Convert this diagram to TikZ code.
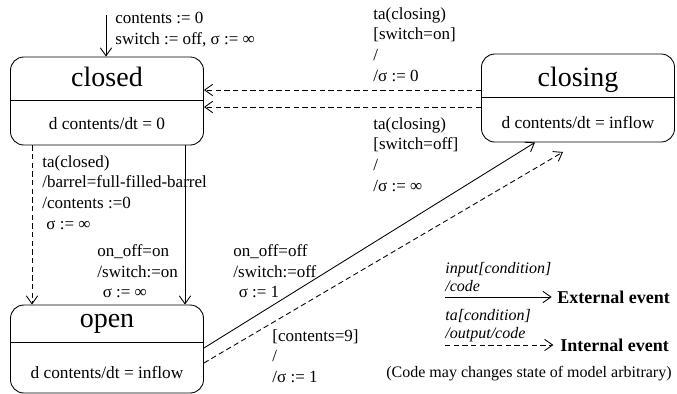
\documentclass[tikz,border=0pt]{standalone}
\usepackage{fontspec}
\setmainfont{Liberation Serif}
\usetikzlibrary{arrows.meta}

\newcommand{\lblfont}{\fontsize{12.75}{15.5}\selectfont}
\newcommand{\bodyfont}{\fontsize{13}{15.5}\selectfont}
\newcommand{\namefont}{\fontsize{21}{24}\selectfont}
\newcommand{\keyfont}{\fontsize{12}{13.5}\selectfont}

\begin{document}
\begin{tikzpicture}[x=0.75pt, y=-0.75pt, line width=0.65pt,
    >={Straight Barb[length=6pt,width=8.5pt]},
    state/.style={draw, rounded corners=10pt, minimum width=144.75pt, minimum height=66pt, inner sep=0pt},
    statename/.style={font=\namefont, anchor=base, inner sep=0pt},
    statebody/.style={font=\bodyfont, anchor=base, inner sep=0pt},
    lbl/.style={font=\lblfont, align=left, anchor=north west, inner sep=0pt},
    internal/.style={->, dash pattern=on 4pt off 2.5pt}]

    % Fix the picture size
    \useasboundingbox (0,0) rectangle (677,393);

    % The three states
    \node[state] (closed) at (107,101) {};
    \node[state] (closing) at (578,98) {};
    \node[state] (open) at (107,349) {};

    % Divider lines inside the states
    \draw (closed.west |- 0,100) -- (closed.east |- 0,100);
    \draw (closing.west |- 0,97) -- (closing.east |- 0,97);
    \draw (open.west |- 0,342) -- (open.east |- 0,342);

    % Names and rates
    \node[statename] (closedname) at (107,86) {closed};
    \node[statebody] (closedrate) at (107,129) {d contents/dt = 0};
    \node[statename] (closingname) at (578,86) {closing};
    \node[statebody] (closingrate) at (578,128) {d contents/dt = inflow};
    \node[statename] (openname) at (107,327) {open};
    \node[statebody] (openrate) at (107,378) {d contents/dt = inflow};

    % Initial transition
    \coordinate (init) at (106,15);
    \draw[->] (init) -- (init |- closed.north);
    \node[lbl] (initlbl) at (115,12) {contents := 0\\switch := off, σ := ∞};

    % closing -> closed (internal events)
    \draw[internal] (closing.west |- 0,90) -- (closed.east |- 0,90);
    \draw[internal] (closing.west |- 0,107) -- (closed.east |- 0,107);
    \node[lbl] (switchon) at (373,7) {ta(closing)\\{[}switch=on{]}\\/\\/σ := 0};
    \node[lbl] (switchoff) at (373,117) {ta(closing)\\{[}switch=off{]}\\/\\/σ := ∞};

    % closed -> open
    \draw[internal] (closed.south -| 32,0) -- (open.north -| 32,0);
    \draw[->] (closed.south -| 185,0) -- (open.north -| 185,0);
    \node[lbl] (taclosed) at (42,155) {ta(closed)\\/barrel=full-filled-barrel\\/contents :=0\\\hspace*{3pt}σ := ∞};
    \node[lbl] (onoffon) at (97,244) {on\_off=on\\/switch:=on\\\hspace*{4pt}σ := ∞};

    % open -> closing
    \coordinate (fullend) at (563,152);
    \draw[->] (open.east |- 0,348) -- (closing.south -| 535,0);
    \draw[internal] (open.east |- 0,363) -- (fullend);
    \node[lbl] (onoffoff) at (233,244) {on\_off=off\\/switch:=off\\\hspace*{4pt}σ := 1};
    \node[lbl] (fullcond) at (272,329) {{[}contents=9{]}\\/\\/σ := 1};

    % Legend
    \node[font=\keyfont\itshape, align=left, anchor=north west, inner sep=0pt] (extkey) at (445,262) {input[condition]\\/code};
    \node[font=\fontsize{13.5}{15}\selectfont\bfseries, anchor=west, inner sep=0pt] (ext) at (557,297) {External event};
    \coordinate (extstart) at (445,297);
    \draw[->, shorten >=4pt] (extstart) -- (ext.west);
    \node[font=\keyfont\itshape, align=left, anchor=north west, inner sep=0pt] (intkey) at (445,309) {ta[condition]\\/output/code};
    \node[font=\fontsize{13.5}{15}\selectfont\bfseries, anchor=west, inner sep=0pt] (int) at (560,345) {Internal event};
    \coordinate (intstart) at (445,345);
    \draw[internal, shorten >=5pt] (intstart) -- (int.west);
    \node[font=\keyfont, anchor=east, inner sep=0pt] (note) at (672,374) {(Code may changes state of model arbitrary)};
\end{tikzpicture}
\end{document}
